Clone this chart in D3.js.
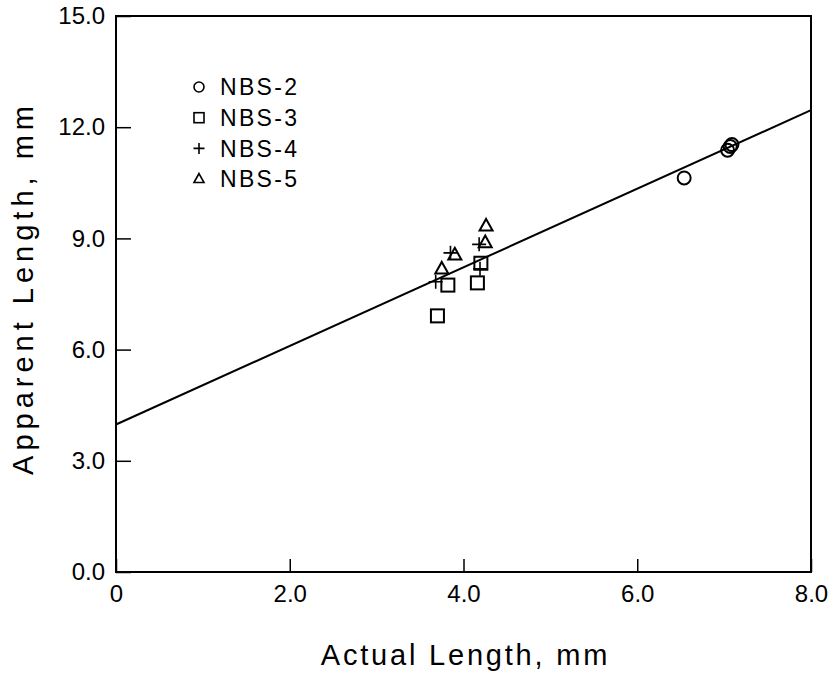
<!DOCTYPE html>
<html>
<head>
<meta charset="utf-8">
<script src="https://cdn.jsdelivr.net/npm/d3@7"></script>
<style>
  body { margin: 0; background: #fff; }
  text { font-family: "Liberation Sans", Arial, sans-serif; fill: #000; }
</style>
</head>
<body>
<script>
// data (actual length, apparent length in mm)
var nbs2 = [[6.54, 10.63], [7.04, 11.38], [7.07, 11.48], [7.09, 11.53]];
var nbs3 = [[3.70, 6.91], [3.82, 7.74], [4.16, 7.80], [4.20, 8.33]];
var nbs4 = [[3.68, 7.83], [3.85, 8.61], [4.18, 8.84], [4.19, 8.18]];
var nbs5 = [[3.75, 8.17], [3.90, 8.55], [4.25, 8.88], [4.26, 9.33]];
var fitLine = [[0, 3.98], [8, 12.46]];
var xTicks = [0, 2, 4, 6, 8];
var yTicks = [0, 3, 6, 9, 12, 15];
var seriesNames = ["NBS-2", "NBS-3", "NBS-4", "NBS-5"];

var margin = {top: 16, right: 23, bottom: 107, left: 116},
width = 834 - margin.left - margin.right,
height = 679 - margin.top - margin.bottom;

var x = d3.scaleLinear().domain([0, 8]).range([0, width]);
var y = d3.scaleLinear().domain([0, 15]).range([height, 0]);

var svg = d3.select("body").append("svg")
.attr("width", 834)
.attr("height", 679)
.append("g")
.attr("transform", "translate(" + margin.left + "," + margin.top + ")");

// axes with inward ticks
var xAxis = svg.append("g")
.attr("transform", "translate(0," + height + ")")
.call(d3.axisBottom(x).tickValues(xTicks).tickSizeInner(-13).tickSizeOuter(0).tickPadding(13)
  .tickFormat(function(d) { return d === 0 ? "0" : d3.format(".1f")(d); }));
var yAxis = svg.append("g")
.call(d3.axisLeft(y).tickValues(yTicks).tickSizeInner(-15).tickSizeOuter(0).tickPadding(11)
  .tickFormat(d3.format(".1f")));

[xAxis, yAxis].forEach(function(a) {
  a.select(".domain").remove();
  a.selectAll("line").attr("stroke", "#000").attr("stroke-width", 1.5);
  a.selectAll("text").style("font-size", "24px").attr("fill", "#000");
});

// frame
svg.append("rect")
.attr("width", width).attr("height", height)
.attr("fill", "none").attr("stroke", "#000").attr("stroke-width", 2);

// fit line
svg.append("path")
.datum(fitLine)
.attr("fill", "none").attr("stroke", "#000").attr("stroke-width", 2)
.attr("d", d3.line().x(function(d) { return x(d[0]); }).y(function(d) { return y(d[1]); }));

function marker(g, k, s) {
  if (k === 2) {
    g.append("path")
    .attr("d", "M" + (-s / 2) + ",0H" + (s / 2) + "M0," + (-s / 2) + "V" + (s / 2))
    .attr("stroke", "#000").attr("stroke-width", 1.6).attr("fill", "none");
  } else if (k === 0) {
    g.append("circle").attr("r", s / 2)
    .attr("fill", "none").attr("stroke", "#000").attr("stroke-width", 2);
  } else if (k === 1) {
    g.append("rect").attr("x", -s / 2).attr("y", -s / 2).attr("width", s).attr("height", s)
    .attr("fill", "none").attr("stroke", "#000").attr("stroke-width", 2);
  } else {
    var h = s * 0.9;
    g.append("path")
    .attr("d", "M0," + (-h * 0.62) + "L" + (s / 2) + "," + (h * 0.38) + "L" + (-s / 2) + "," + (h * 0.38) + "Z")
    .attr("fill", "none").attr("stroke", "#000").attr("stroke-width", 2);
  }
}

[nbs2, nbs3, nbs4, nbs5].forEach(function(data, k) {
  svg.append("g").selectAll("g").data(data).enter().append("g")
  .attr("transform", function(d) { return "translate(" + x(d[0]) + "," + y(d[1]) + ")"; })
  .each(function() { marker(d3.select(this), k, k === 2 ? 14 : 13); });
});

// legend
var legend = svg.append("g").attr("transform", "translate(83,71)");
seriesNames.forEach(function(name, k) {
  var row = legend.append("g").attr("transform", "translate(0," + (k * 30.7) + ")");
  var m = row.append("g");
  marker(m, k, k === 2 ? 11 : 10);
  m.selectAll("circle,rect,path").attr("stroke-width", 1.6);
  row.append("text").attr("x", 21).attr("dy", "0.36em")
  .style("font-size", "23px").style("letter-spacing", "2.3px").text(name);
});

// axis titles
svg.append("text")
.attr("x", width / 2 + 2).attr("y", height + 93)
.attr("text-anchor", "middle").style("font-size", "29px").style("letter-spacing", "2.8px")
.text("Actual Length, mm");

svg.append("text")
.attr("transform", "translate(-83,272) rotate(-90)")
.attr("text-anchor", "middle").style("font-size", "29px").style("letter-spacing", "5px")
.text("Apparent Length, mm");
</script>
</body>
</html>
